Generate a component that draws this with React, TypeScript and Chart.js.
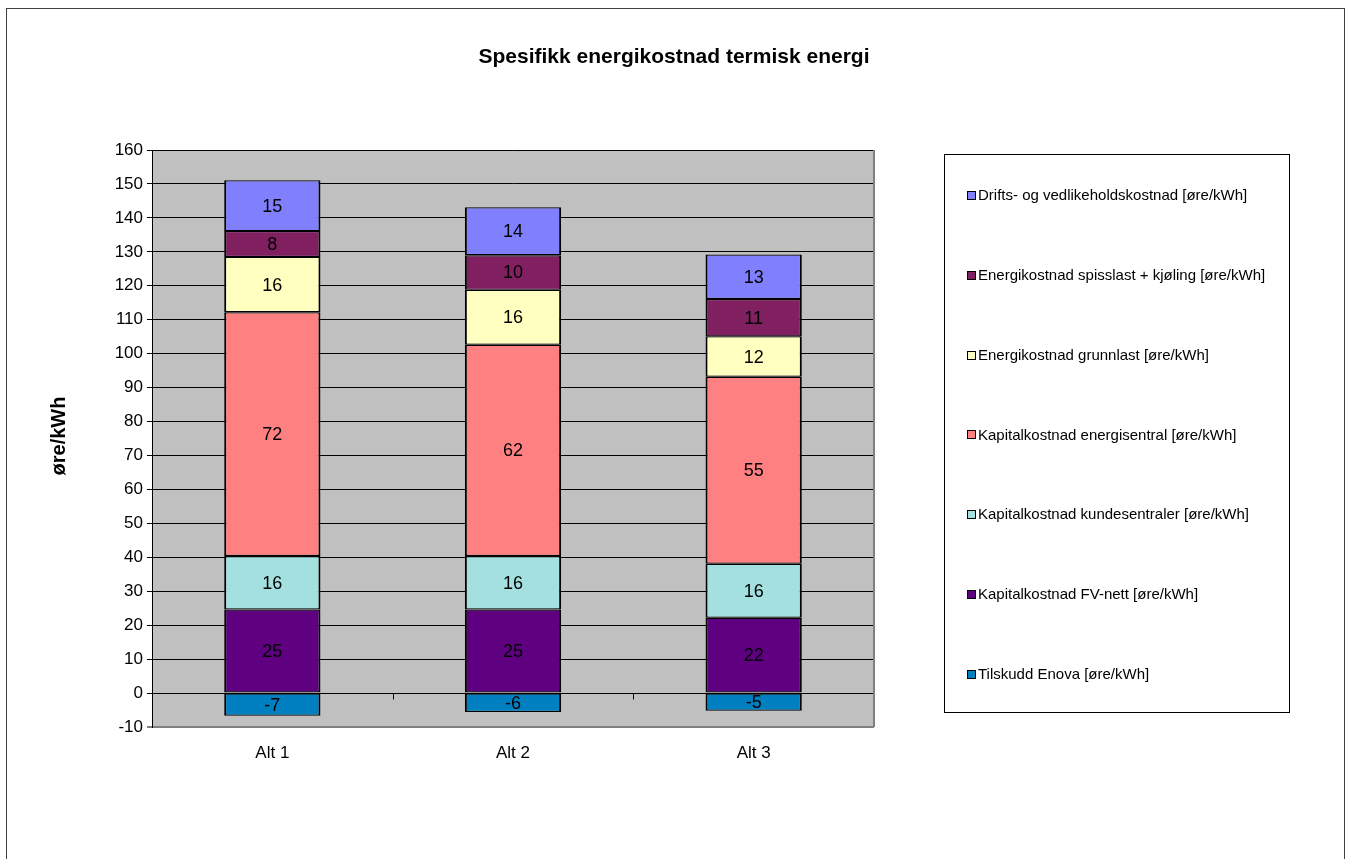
import React, { useEffect, useRef } from "react";
import { Chart, registerables } from "chart.js";

Chart.register(...registerables);

const FONT = "'Liberation Sans', Arial, sans-serif";

const chartTitle = "Spesifikk energikostnad termisk energi";
const yAxisTitle = "øre/kWh";
const categories = ["Alt 1", "Alt 2", "Alt 3"];

const tilskuddEnova = [-6.7, -5.6, -5.2];
const kapitalFVNett = [24.6, 24.6, 22.2];
const kapitalKundesentraler = [15.8, 15.8, 15.9];
const kapitalEnergisentral = [71.8, 62.2, 55.1];
const energiGrunnlast = [16.3, 16.2, 11.9];
const energiSpisslast = [7.6, 10.2, 11.0];
const driftVedlikehold = [15.0, 14.1, 13.1];

const seriesNames = [
  "Tilskudd Enova [øre/kWh]",
  "Kapitalkostnad FV-nett [øre/kWh]",
  "Kapitalkostnad kundesentraler [øre/kWh]",
  "Kapitalkostnad energisentral [øre/kWh]",
  "Energikostnad grunnlast [øre/kWh]",
  "Energikostnad spisslast + kjøling [øre/kWh]",
  "Drifts- og vedlikeholdskostnad [øre/kWh]",
];
const seriesValues = [
  tilskuddEnova,
  kapitalFVNett,
  kapitalKundesentraler,
  kapitalEnergisentral,
  energiGrunnlast,
  energiSpisslast,
  driftVedlikehold,
];
const seriesColors = [
  "#0080C0",
  "#5E0080",
  "#A4E0E0",
  "#FF8080",
  "#FFFFC0",
  "#802060",
  "#8080FF",
];

const yMin = -10;
const yMax = 160;
const yStep = 10;

const decorPlugin = {
  id: "decor",
  beforeDraw(chart: any) {
    const { ctx, chartArea } = chart;
    ctx.save();
    ctx.fillStyle = "#FFFFFF";
    ctx.fillRect(0, 0, chart.width, chart.height);
    // outer frame
    ctx.strokeStyle = "#404040";
    ctx.lineWidth = 1;
    ctx.strokeRect(6.5, 8.5, 1338, 900);
    // plot background
    ctx.fillStyle = "#C0C0C0";
    ctx.fillRect(chartArea.left, chartArea.top, chartArea.right - chartArea.left, chartArea.bottom - chartArea.top);
    // title
    ctx.fillStyle = "#000";
    ctx.font = `bold 21px ${FONT}`;
    ctx.textAlign = "center";
    ctx.textBaseline = "middle";
    ctx.fillText(chartTitle, 674, 57);
    // y axis title
    ctx.translate(59, 436);
    ctx.rotate(-Math.PI / 2);
    ctx.font = `bold 20px ${FONT}`;
    ctx.fillText(yAxisTitle, 0, 0);
    ctx.restore();
  },
  afterDatasetsDraw(chart: any) {
    const { ctx, chartArea } = chart;
    ctx.save();
    // right border of plot area
    ctx.strokeStyle = "#808080";
    ctx.lineWidth = 2;
    ctx.beginPath();
    ctx.moveTo(chartArea.right, chartArea.top);
    ctx.lineTo(chartArea.right, chartArea.bottom);
    ctx.stroke();
    // category tick marks on zero line
    const xs = chart.scales.x;
    const ys = chart.scales.y;
    const y0 = Math.round(ys.getPixelForValue(0)) + 0.5;
    ctx.strokeStyle = "#000";
    ctx.lineWidth = 1;
    for (let i = 0; i < categories.length - 1; i++) {
      const bx = Math.round((xs.getPixelForValue(i) + xs.getPixelForValue(i + 1)) / 2) + 0.5;
      ctx.beginPath();
      ctx.moveTo(bx, y0);
      ctx.lineTo(bx, y0 + 6);
      ctx.stroke();
    }
    // data labels
    ctx.fillStyle = "#000";
    ctx.font = `18px ${FONT}`;
    ctx.textAlign = "center";
    ctx.textBaseline = "middle";
    chart.data.datasets.forEach((ds: any, i: number) => {
      const meta = chart.getDatasetMeta(i);
      meta.data.forEach((el: any, j: number) => {
        const v = ds.data[j] as number;
        const p = el.getProps(["x", "y", "base"], true);
        ctx.fillText(String(Math.round(v)), p.x, (p.y + p.base) / 2 + 1);
      });
    });
    ctx.restore();
  },
  afterDraw(chart: any) {
    const { ctx } = chart;
    ctx.save();
    // legend box
    ctx.strokeStyle = "#000";
    ctx.lineWidth = 1;
    ctx.strokeRect(944.5, 154.5, 345, 558);
    ctx.font = `15px ${FONT}`;
    ctx.textAlign = "left";
    ctx.textBaseline = "middle";
    const n = seriesNames.length;
    for (let k = 0; k < n; k++) {
      const idx = n - 1 - k;
      const cy = 195 + k * 79.8;
      ctx.fillStyle = seriesColors[idx];
      ctx.fillRect(967, Math.round(cy) - 4, 9, 9);
      ctx.strokeStyle = "#000";
      ctx.strokeRect(967.5, Math.round(cy) - 3.5, 8, 8);
      ctx.fillStyle = "#000";
      ctx.fillText(seriesNames[idx], 978, cy + 1);
    }
    ctx.restore();
  },
};

export default function App() {
  const canvasRef = useRef<HTMLCanvasElement | null>(null);

  useEffect(() => {
    const canvas = canvasRef.current;
    if (!canvas) return;
    const chart = new Chart(canvas, {
      type: "bar",
      data: {
        labels: categories,
        datasets: seriesValues.map((vals, i) => ({
          label: seriesNames[i],
          data: vals,
          backgroundColor: seriesColors[i],
          borderColor: "#000000",
          borderWidth: { left: 2, right: 2, top: 1.2, bottom: 1.2 },
          borderSkipped: false,
          stack: "s",
          barPercentage: 0.4,
          categoryPercentage: 1,
        })),
      },
      options: {
        responsive: false,
        animation: false,
        devicePixelRatio: 1,
        layout: { padding: { left: 100, right: 474, top: 150, bottom: 0 } },
        plugins: {
          legend: { display: false },
          title: { display: false },
          tooltip: { enabled: false },
        },
        scales: {
          x: {
            stacked: true,
            grid: { display: false, drawTicks: false },
            border: { display: false },
            ticks: { color: "#000", font: { family: FONT, size: 17 }, padding: 16 },
            afterFit: (s: any) => {
              s.height = 132;
            },
          },
          y: {
            stacked: true,
            min: yMin,
            max: yMax,
            ticks: {
              stepSize: yStep,
              color: "#000",
              font: { family: FONT, size: 17 },
              padding: 4,
            },
            grid: {
              color: (c: any) => (c.tick && c.tick.value === yMin ? "#808080" : "#000000"),
              lineWidth: (c: any) => (c.tick && c.tick.value === yMin ? 2 : 1),
              tickLength: 5,
              drawTicks: true,
            },
            border: { display: true, color: "#000", width: 1 },
            afterFit: (s: any) => {
              s.width = 52;
            },
          },
        },
      },
      plugins: [decorPlugin],
    });
    return () => chart.destroy();
  }, []);

  return (
    <div style={{ position: "absolute", left: 0, top: 0, width: 1348, height: 859 }}>
      <canvas ref={canvasRef} width={1348} height={859} style={{ display: "block" }} />
    </div>
  );
}
